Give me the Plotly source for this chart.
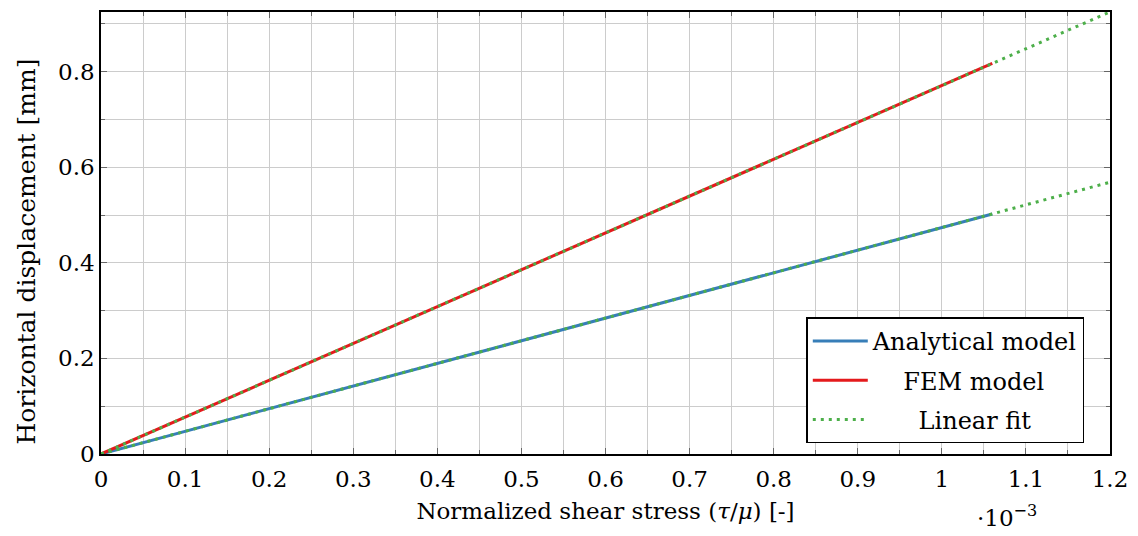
import plotly.graph_objects as go

# x in units of 1e-3 (normalized shear stress)
x_data = [0.0, 0.1, 0.2, 0.3, 0.4, 0.5, 0.6, 0.7, 0.8, 0.9, 1.0, 1.06]
analytical = [0.0, 0.0474, 0.0948, 0.1422, 0.1896, 0.2370, 0.2844, 0.3318, 0.3792, 0.4266, 0.4740, 0.5024]
fem = [0.0, 0.0771, 0.1542, 0.2313, 0.3084, 0.3855, 0.4626, 0.5397, 0.6168, 0.6939, 0.7710, 0.8173]
fit_x = [0.0, 1.2]
fit_analytical = [0.0, 0.5688]
fit_fem = [0.0, 0.9252]

x_ticks = [0, 0.1, 0.2, 0.3, 0.4, 0.5, 0.6, 0.7, 0.8, 0.9, 1, 1.1, 1.2]
x_tick_text = ["0", "0.1", "0.2", "0.3", "0.4", "0.5", "0.6", "0.7", "0.8", "0.9", "1", "1.1", "1.2"]
y_ticks = [0, 0.2, 0.4, 0.6, 0.8]
y_tick_text = ["0", "0.2", "0.4", "0.6", "0.8"]

BLUE = "#377eb8"
RED = "#e41a1c"
GREEN = "#4daf4a"
FONT = "DejaVu Serif"
NB = "\u00a0"

fig = go.Figure()
fig.add_trace(go.Scatter(x=x_data, y=analytical, mode="lines", name="Analytical model",
                         legendgroup="a", line=dict(color=BLUE, width=3)))
fig.add_trace(go.Scatter(x=x_data, y=fem, mode="lines", name=NB * 4 + "FEM model",
                         legendgroup="b", line=dict(color=RED, width=3)))
fig.add_trace(go.Scatter(x=fit_x, y=fit_analytical, mode="lines", name=NB * 6 + "Linear fit",
                         legendgroup="c", line=dict(color=GREEN, width=3, dash="3px,5px")))
fig.add_trace(go.Scatter(x=fit_x, y=fit_fem, mode="lines", name="Linear fit", showlegend=False,
                         legendgroup="c", line=dict(color=GREEN, width=3, dash="3px,5px")))

axis_common = dict(
    showline=True, linecolor="black", linewidth=1.5, mirror="ticks",
    ticks="inside", ticklen=6, tickcolor="#666666", tickwidth=1.2,
    showgrid=True, gridcolor="#cccccc", gridwidth=1.3, zeroline=False,
    tickfont=dict(family=FONT, size=23, color="black"),
)

fig.update_xaxes(
    range=[0, 1.2], tickvals=x_ticks, ticktext=x_tick_text, ticklabelstandoff=4,
    minor=dict(dtick=0.05, tick0=0, showgrid=True, gridcolor="#cccccc", gridwidth=1.3,
               ticks="inside", ticklen=4, tickcolor="#666666"),
    title=dict(text="Normalized shear stress (<i>τ</i>/<i>μ</i>) [-]",
               font=dict(family=FONT, size=23, color="black"), standoff=12),
    **axis_common,
)
fig.update_yaxes(
    range=[0, 0.925], tickvals=y_ticks, ticktext=y_tick_text,
    minor=dict(dtick=0.1, tick0=0, showgrid=True, gridcolor="#cccccc", gridwidth=1.3,
               ticks="inside", ticklen=4, tickcolor="#666666"),
    **axis_common,
)

# y-axis title (placed slightly below the plot centre, as in the reference)
fig.add_annotation(x=-0.0739, y=0.459, xref="paper", yref="paper", xanchor="center", yanchor="middle",
                   text="Horizontal displacement [mm]", textangle=-90, showarrow=False,
                   font=dict(family=FONT, size=25, color="black"))

fig.add_annotation(x=1.04, y=-0.178, xref="x", yref="paper", xanchor="left", yanchor="bottom",
                   text="·10<sup>−3</sup>", showarrow=False,
                   font=dict(family=FONT, size=23, color="black"))

fig.update_layout(
    width=1138, height=536,
    margin=dict(l=101, r=22, t=10, b=82),
    plot_bgcolor="white", paper_bgcolor="white",
    font=dict(family=FONT, size=23, color="black"),
    legend=dict(x=0.699, y=0.024, xanchor="left", yanchor="bottom",
                bgcolor="white", bordercolor="black", borderwidth=1.5,
                font=dict(family=FONT, size=24, color="black"),
                itemwidth=55, tracegroupgap=5),
    showlegend=True,
)

fig.write_html("out.html")
